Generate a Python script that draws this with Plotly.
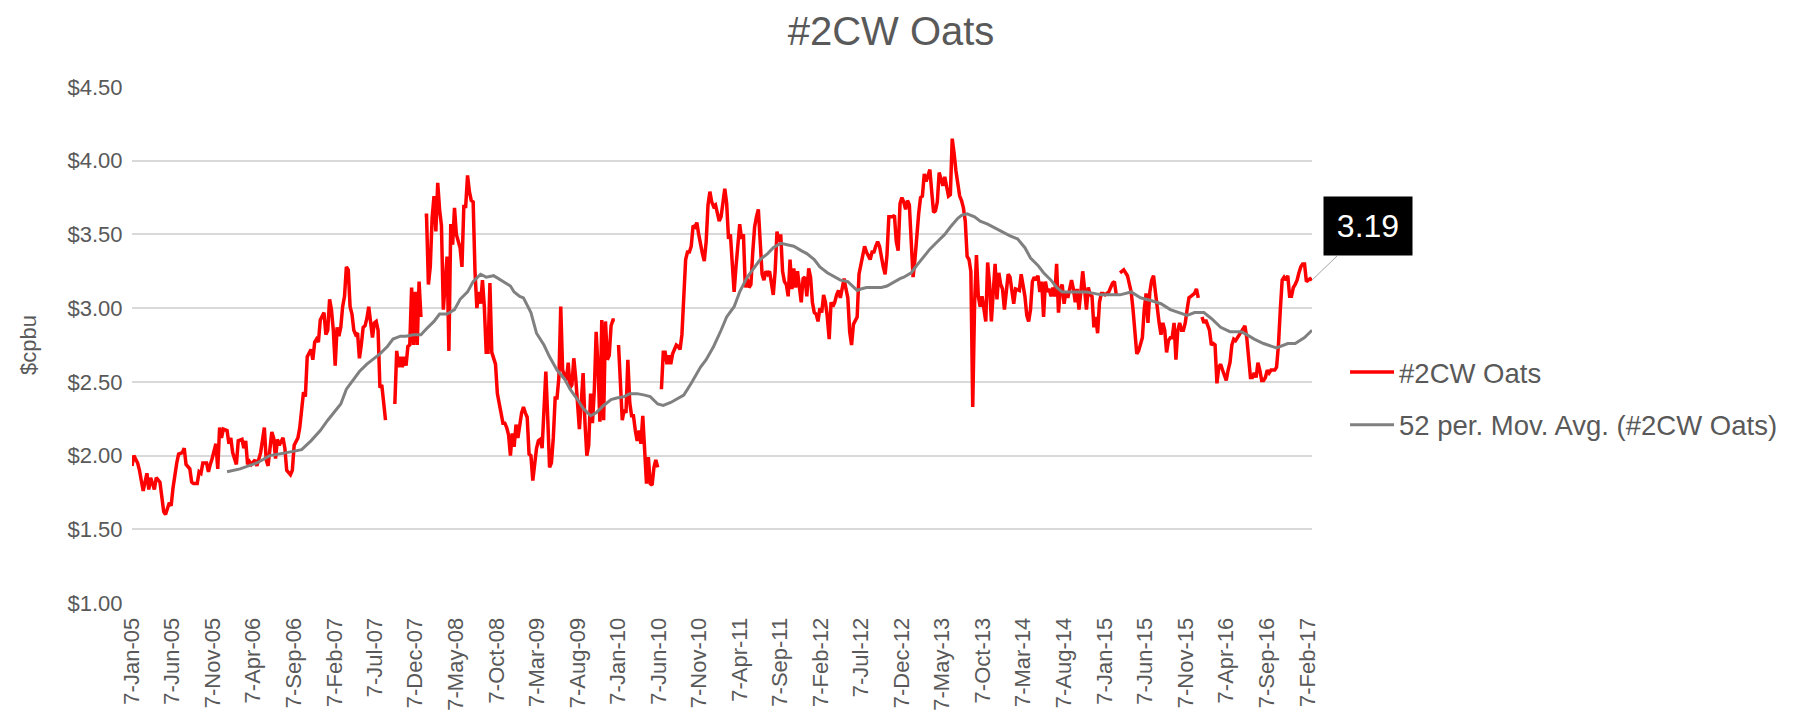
import plotly.graph_objects as go
import pandas as pd

# ---------------- data ----------------
START_DATE = "2005-01-07"   # week 0 (weekly Friday quotes)

# #2CW Oats weekly price ($/bu); week index from START_DATE, None = no quote
oats_week = [
    0, 1, 3, 4, 6, 8, 9, 10, 12, 13,
    15, 16, 17, 18, 20, 21, 22, 24, 25, 27,
    28, 29, 31, 32, 33, 35, 36, 37, 38, 40,
    41, 42, 43, 45, 46, 47, 48, 49, 51, 52,
    53, 54, 55, 56, 57, 59, 60, 61, 62, 63,
    64, 66, 67, 68, 69, 71, 72, 73, 74, 75,
    76, 77, 78, 79, 81, 82, 83, 85, 86, 87,
    89, 90, 91, 92, 93, 94, 96, 97, 98, 99,
    100, 101, 103, 104, 105, 106, 107, 108, 109, 110,
    111, 112, 113, 114, 115, 116, 117, 118, 119, 120,
    121, 122, 123, 124, 125, 126, 127, 128, 129, 130,
    131, 132, 133, 134, 135, 136, 138, 141, 142, 143,
    144, 145, 146, 147, 148, 149, 150, 151, 152, 153,
    154, 155, 156, 157, 158, 159, 160, 161, 162, 163,
    164, 165, 166, 167, 168, 169, 170, 171, 172, 173,
    174, 176, 177, 178, 179, 180, 181, 182, 183, 184,
    185, 186, 187, 188, 189, 190, 191, 192, 193, 194,
    195, 196, 197, 199, 200, 201, 202, 203, 204, 205,
    206, 207, 209, 210, 211, 212, 213, 214, 215, 216,
    217, 218, 219, 220, 221, 222, 223, 224, 225, 226,
    227, 228, 229, 230, 231, 232, 233, 234, 235, 236,
    237, 238, 239, 240, 241, 242, 243, 244, 245, 246,
    247, 248, 249, 250, 251, 252, 253, 254, 255, 256,
    257, 258, 259, 260, 261, 262, 263, 264, 265, 266,
    267, 268, 269, 270, 271, 272, 273, 274, 275, 276,
    277, 278, 279, 280, 281, 282, 283, 284, 285, 286,
    287, 288, 289, 290, 291, 292, 293, 294, 295, 296,
    297, 298, 299, 300, 301, 302, 303, 304, 305, 306,
    307, 308, 309, 310, 311, 312, 313, 314, 315, 316,
    317, 318, 319, 320, 321, 322, 323, 324, 325, 326,
    327, 328, 329, 330, 331, 332, 333, 334, 335, 336,
    337, 338, 339, 340, 341, 342, 343, 344, 345, 346,
    347, 348, 349, 350, 351, 352, 353, 354, 355, 356,
    357, 358, 359, 360, 361, 362, 363, 364, 365, 366,
    367, 368, 369, 370, 371, 372, 373, 374, 375, 376,
    377, 378, 379, 380, 381, 382, 383, 384, 385, 386,
    387, 388, 389, 390, 391, 392, 393, 394, 395, 396,
    397, 398, 399, 400, 401, 402, 403, 404, 405, 406,
    407, 408, 409, 410, 411, 412, 413, 414, 415, 416,
    417, 418, 419, 420, 421, 422, 423, 424, 425, 426,
    427, 428, 429, 430, 431, 432, 433, 434, 435, 436,
    437, 438, 439, 440, 441, 442, 444, 445, 446, 447,
    448, 449, 450, 451, 452, 453, 454, 455, 456, 457,
    458, 459, 460, 461, 462, 463, 464, 465, 466, 467,
    468, 470, 471, 472, 473, 474, 476, 477, 478, 479,
    480, 481, 482, 483, 484, 485, 486, 487, 488, 489,
    490, 491, 492, 493, 494, 495, 496, 497, 498, 499,
    500, 501, 502, 503, 504, 505, 506, 507, 508, 509,
    510, 511, 512, 513, 514, 515, 516, 517, 518, 519,
    520, 521, 522, 523, 524, 525, 526, 527, 528, 529,
    530, 532, 534, 536, 537, 538, 539, 540, 541, 542,
    543, 544, 545, 546, 547, 548, 549, 550, 551, 552,
    553, 554, 555, 556, 557, 558, 559, 560, 561, 562,
    563, 564, 565, 566, 567, 568, 569, 570, 571, 572,
    573, 574, 575, 576, 577, 578, 579, 580, 581, 582,
    583, 584, 585, 586, 587, 588, 589, 590, 591, 592,
    593, 594, 595, 596, 597, 598, 599, 600, 601, 602,
    603, 604, 605, 606, 607, 608, 609, 610, 611, 612,
    613, 614, 615, 616, 617, 618, 619, 620, 621, 622,
    623, 624, 625, 626, 627, 628, 629, 630, 631, 632,
    633,
]
oats_price = [
    1.93, 2.00, 1.95, 1.90, 1.76, 1.88, 1.77, 1.85, 1.77, 1.85,
    1.82, 1.71, 1.62, 1.60, 1.68, 1.66, 1.78, 1.95, 2.01, 2.02,
    2.05, 1.94, 1.91, 1.82, 1.81, 1.81, 1.89, 1.88, 1.95, 1.95,
    1.89, 1.94, 1.98, 2.08, 1.91, 2.19, 2.12, 2.18, 2.17, 2.08,
    2.12, 2.02, 1.98, 1.94, 2.10, 2.11, 2.05, 2.10, 1.94, 1.96,
    1.94, 1.97, 1.93, 1.98, 2.02, 2.19, 1.97, 1.93, 2.04, 2.16,
    2.12, 1.98, 2.11, 2.07, 2.12, 2.05, 1.90, 1.87, 1.90, 2.07,
    2.12, 2.19, 2.31, 2.43, 2.40, 2.67, 2.72, 2.65, 2.77, 2.79,
    2.77, 2.92, 2.97, 2.82, 2.85, 3.06, 2.99, 2.85, 2.61, 2.87,
    2.81, 2.87, 3.01, 3.08, 3.28, 3.26, 3.01, 2.96, 2.85, 2.82,
    2.83, 2.66, 2.75, 2.87, 2.88, 2.93, 3.01, 2.89, 2.80, 2.90,
    2.91, 2.85, 2.46, 2.48, 2.36, 2.24, None, 2.35, 2.71, 2.60,
    2.67, 2.60, 2.67, 2.61, 2.74, 2.75, 3.14, 2.75, 3.11, 2.75,
    3.18, 2.94, None, 3.63, 3.63, 3.16, 3.28, 3.61, 3.76, 3.52,
    3.85, 3.67, 3.56, 2.99, 3.16, 3.35, 2.71, 3.57, 3.43, 3.68,
    3.50, 3.41, 3.28, 3.69, 3.69, 3.90, 3.79, 3.73, 3.72, 3.25,
    3.00, 3.11, 3.03, 3.19, 3.01, 2.70, 2.70, 3.17, 2.70, 2.65,
    2.62, 2.42, 2.36, 2.22, 2.22, 2.19, 2.14, 2.00, 2.15, 2.06,
    2.21, 2.12, 2.29, 2.33, 2.29, 2.26, 2.01, 2.00, 1.83, 1.95,
    2.05, 2.10, 2.11, 2.05, 2.29, 2.57, 2.26, 1.92, 1.95, 2.12,
    2.39, 2.39, 2.53, 3.01, 2.58, 2.55, 2.51, 2.63, 2.46, 2.48,
    2.66, 2.53, 2.36, 2.18, 2.36, 2.56, 2.22, 2.00, 2.07, 2.42,
    2.22, 2.44, 2.84, 2.60, 2.23, 2.92, 2.24, 2.91, 2.65, 2.68,
    2.88, 2.92, 2.92, None, 2.75, 2.44, 2.24, 2.31, 2.29, 2.65,
    2.36, 2.27, 2.27, 2.17, 2.10, 2.17, 2.08, 2.27, 2.02, 1.81,
    1.99, 1.81, 1.80, 1.92, 1.97, 1.92, None, 2.45, 2.70, 2.70,
    2.62, 2.68, 2.62, 2.69, 2.72, 2.75, 2.74, 2.72, 2.82, 3.11,
    3.33, 3.38, 3.38, 3.42, 3.56, 3.55, 3.58, 3.50, 3.42, 3.37,
    3.32, 3.45, 3.70, 3.79, 3.72, 3.69, 3.70, 3.64, 3.59, 3.62,
    3.71, 3.81, 3.71, 3.47, 3.50, 3.33, 3.11, 3.28, 3.42, 3.57,
    3.47, 3.50, 3.14, 3.20, 3.14, 3.16, 3.38, 3.55, 3.62, 3.67,
    3.45, 3.23, 3.19, 3.25, 3.23, 3.25, 3.17, 3.09, 3.25, 3.52,
    3.45, 3.50, 3.25, 3.18, 3.16, 3.08, 3.33, 3.13, 3.27, 3.14,
    3.25, 3.14, 3.04, 3.20, 3.21, 3.08, 3.27, 3.21, 3.04, 2.97,
    2.96, 2.91, 3.00, 2.97, 3.09, 3.04, 2.94, 2.79, 3.04, 3.01,
    3.04, 3.09, 3.12, 3.07, 3.13, 3.20, 3.13, 3.07, 2.84, 2.75,
    2.89, 2.91, 2.94, 3.23, 3.30, 3.36, 3.42, 3.38, 3.35, 3.33,
    3.38, 3.38, 3.42, 3.45, 3.42, 3.33, 3.28, 3.23, 3.36, 3.62,
    3.62, 3.62, 3.63, 3.45, 3.39, 3.71, 3.75, 3.72, 3.67, 3.73,
    3.70, 3.47, 3.21, 3.33, 3.50, 3.64, 3.75, 3.76, 3.91, 3.86,
    3.90, 3.94, 3.79, 3.65, 3.66, 3.72, 3.92, 3.88, 3.83, 3.89,
    3.83, 3.76, 3.77, 4.15, 4.05, 3.93, 3.76, 3.73, 3.68, 3.59,
    3.35, 3.33, 3.25, 2.33, 3.03, 3.36, 3.08, 3.01, 3.08, 2.99,
    2.91, 3.31, 3.17, 2.91, 3.13, 3.30, 3.06, 3.24, 3.16, 3.13,
    2.99, 3.23, 3.21, 3.12, 3.03, 3.13, 3.12, 3.23, 3.16, 3.08,
    2.95, 2.91, 2.99, 3.18, 3.21, 3.19, 3.22, 3.11, 3.18, 2.94,
    3.18, 3.11, 3.13, 3.08, 3.14, 3.08, 3.30, 2.97, 3.13, 3.16,
    3.03, 3.11, 3.07, 3.14, 3.19, 3.13, 3.04, 3.13, 2.99, 3.11,
    3.25, 3.13, 2.99, 3.14, 3.09, 3.08, 2.87, 2.94, 2.83, 3.04,
    3.10, 3.10, 3.09, 3.10, 3.11, 3.14, 3.17, 3.18, 3.09, None,
    3.24, 3.26, 3.22, 3.11, 2.99, 2.80, 2.69, 2.71, 2.75, 2.80,
    2.99, 3.10, 2.90, 3.11, 3.19, 3.22, 3.11, 2.99, 2.90, 2.82,
    2.90, 2.85, 2.70, 2.78, 2.80, 2.80, 2.90, 2.65, 2.85, 2.90,
    2.85, 2.85, 2.90, 2.99, 3.07, 3.08, 3.09, 3.10, 3.13, 3.07,
    None, 2.94, 2.90, 2.92, 2.88, 2.85, 2.75, 2.76, 2.75, 2.49,
    2.60, 2.62, 2.58, 2.55, 2.51, 2.58, 2.63, 2.75, 2.79, 2.78,
    2.80, 2.82, 2.85, 2.87, 2.88, 2.80, 2.67, 2.53, 2.53, 2.56,
    2.53, 2.63, 2.58, 2.51, 2.51, 2.53, 2.58, 2.56, 2.58, 2.58,
    2.58, 2.60, 2.75, 2.99, 3.19, 3.21, 3.19, 3.22, 3.08, 3.08,
    3.14, 3.16, 3.19, 3.24, 3.28, 3.30, 3.30, 3.18, 3.19, 3.20,
    3.19,
]

# 52-period moving average (week index, $/bu)
ma_week = [
    51, 58, 67, 74, 83, 91, 96, 101, 105, 108,
    112, 115, 119, 122, 126, 130, 133, 137, 140, 144,
    147, 151, 155, 158, 162, 165, 169, 173, 176, 180,
    183, 187, 190, 194, 198, 201, 203, 205, 208, 210,
    214, 217, 221, 224, 228, 232, 235, 239, 242, 246,
    249, 253, 257, 260, 264, 267, 271, 275, 278, 282,
    285, 289, 292, 296, 300, 303, 305, 308, 312, 316,
    319, 323, 326, 330, 334, 337, 341, 344, 348, 351,
    355, 359, 362, 366, 369, 373, 377, 380, 384, 387,
    389, 391, 394, 398, 402, 405, 409, 412, 414, 418,
    421, 425, 428, 432, 436, 439, 443, 445, 448, 452,
    455, 459, 462, 466, 469, 471, 475, 479, 482, 486,
    489, 493, 496, 499, 502, 505, 509, 512, 516, 520,
    523, 527, 530, 536, 541, 547, 552, 557, 563, 566,
    570, 575, 579, 584, 589, 595, 598, 602, 607, 614,
    620, 624, 629, 633,
]
ma_price = [
    1.89, 1.91, 1.95, 2.00, 2.02, 2.04, 2.10, 2.17, 2.24, 2.29,
    2.35, 2.45, 2.52, 2.57, 2.62, 2.66, 2.69, 2.74, 2.79, 2.81,
    2.81, 2.82, 2.82, 2.86, 2.91, 2.96, 2.96, 2.99, 3.06, 3.11,
    3.18, 3.23, 3.21, 3.22, 3.19, 3.17, 3.15, 3.11, 3.08, 3.07,
    2.97, 2.83, 2.75, 2.67, 2.58, 2.52, 2.45, 2.38, 2.32, 2.27,
    2.29, 2.34, 2.38, 2.39, 2.40, 2.42, 2.42, 2.41, 2.40, 2.35,
    2.34, 2.36, 2.38, 2.41, 2.49, 2.56, 2.60, 2.65, 2.74, 2.85,
    2.94, 3.01, 3.11, 3.21, 3.28, 3.33, 3.37, 3.41, 3.44, 3.43,
    3.42, 3.39, 3.37, 3.33, 3.28, 3.24, 3.21, 3.19, 3.18, 3.14,
    3.12, 3.13, 3.14, 3.14, 3.14, 3.15, 3.18, 3.20, 3.21, 3.24,
    3.29, 3.35, 3.40, 3.45, 3.50, 3.55, 3.61, 3.63, 3.64, 3.62,
    3.59, 3.57, 3.55, 3.52, 3.50, 3.49, 3.47, 3.41, 3.34, 3.29,
    3.24, 3.19, 3.14, 3.11, 3.11, 3.11, 3.11, 3.11, 3.10, 3.09,
    3.09, 3.09, 3.09, 3.11, 3.07, 3.05, 3.03, 2.99, 2.96, 2.95,
    2.97, 2.97, 2.93, 2.87, 2.84, 2.84, 2.82, 2.79, 2.76, 2.73,
    2.76, 2.76, 2.80, 2.85,
]

tick_dates = [
    "2005-01-07", "2005-06-07", "2005-11-07", "2006-04-07", "2006-09-07",
    "2007-02-07", "2007-07-07", "2007-12-07", "2008-05-07", "2008-10-07",
    "2009-03-07", "2009-08-07", "2010-01-07", "2010-06-07", "2010-11-07",
    "2011-04-07", "2011-09-07", "2012-02-07", "2012-07-07", "2012-12-07",
    "2013-05-07", "2013-10-07", "2014-03-07", "2014-08-07", "2015-01-07",
    "2015-06-07", "2015-11-07", "2016-04-07", "2016-09-07", "2017-02-07",
]
tick_labels = [
    "7-Jan-05", "7-Jun-05", "7-Nov-05", "7-Apr-06", "7-Sep-06",
    "7-Feb-07", "7-Jul-07", "7-Dec-07", "7-May-08", "7-Oct-08",
    "7-Mar-09", "7-Aug-09", "7-Jan-10", "7-Jun-10", "7-Nov-10",
    "7-Apr-11", "7-Sep-11", "7-Feb-12", "7-Jul-12", "7-Dec-12",
    "7-May-13", "7-Oct-13", "7-Mar-14", "7-Aug-14", "7-Jan-15",
    "7-Jun-15", "7-Nov-15", "7-Apr-16", "7-Sep-16", "7-Feb-17",
]
y_ticks = [1.0, 1.5, 2.0, 2.5, 3.0, 3.5, 4.0, 4.5]
y_tick_labels = ["$1.00", "$1.50", "$2.00", "$2.50", "$3.00", "$3.50", "$4.00", "$4.50"]

# ---------------- figure ----------------
start = pd.Timestamp(START_DATE)
oats_dates = [start + pd.Timedelta(weeks=w) for w in oats_week]
ma_dates = [start + pd.Timedelta(weeks=w) for w in ma_week]

FONT = "Liberation Sans, Arial, sans-serif"
GREY_TXT = "#595959"

fig = go.Figure()
fig.add_trace(go.Scatter(
    x=oats_dates, y=oats_price, mode="lines", name="#2CW Oats",
    line=dict(color="#ff0000", width=3.5), connectgaps=False,
    legendgroup="a",
))
fig.add_trace(go.Scatter(
    x=ma_dates, y=ma_price, mode="lines",
    name="52 per. Mov. Avg. (#2CW Oats)",
    line=dict(color="#808080", width=3), legendgroup="b",
))

fig.add_annotation(
    x=oats_dates[-1], y=oats_price[-1], xref="x", yref="y",
    text=f"{oats_price[-1]:.2f}", showarrow=True, arrowhead=0,
    arrowwidth=1, arrowcolor="#a6a6a6", ax=56, ay=-54,
    font=dict(family=FONT, size=32, color="white"),
    bgcolor="black", width=88, height=58, align="center", valign="middle",
    borderpad=0, standoff=0,
)

fig.update_layout(
    width=1800, height=720,
    margin=dict(l=132, r=488, t=87, b=117, autoexpand=False),
    paper_bgcolor="white", plot_bgcolor="white",
    font=dict(family=FONT, color=GREY_TXT),
    title=dict(text="#2CW Oats", x=0.495, xref="container", xanchor="center",
               y=0.977, yref="container", yanchor="top",
               font=dict(family=FONT, size=40, color=GREY_TXT)),
    showlegend=True,
    legend=dict(x=1.028, xanchor="left", y=0.495, yanchor="top",
                font=dict(family=FONT, size=27.5, color=GREY_TXT),
                tracegroupgap=14, bgcolor="rgba(0,0,0,0)", itemwidth=44),
    xaxis=dict(
        type="date", range=[oats_dates[0], oats_dates[-1]],
        tickmode="array", tickvals=tick_dates, ticktext=tick_labels,
        tickangle=-90, tickfont=dict(family=FONT, size=22, color=GREY_TXT),
        showgrid=False, zeroline=False, showline=False, automargin=False,
        ticks="outside", ticklen=5, tickcolor="rgba(0,0,0,0)",
    ),
    yaxis=dict(
        range=[1.0, 4.5], tickmode="array", tickvals=y_ticks,
        ticktext=y_tick_labels,
        tickfont=dict(family=FONT, size=22, color=GREY_TXT),
        showgrid=True, gridcolor="#d9d9d9", gridwidth=1.5,
        zeroline=False, showline=False, automargin=False,
        ticks="outside", ticklen=4, tickcolor="rgba(0,0,0,0)",
        title=dict(text="$cpbu", standoff=24,
                   font=dict(family=FONT, size=22, color=GREY_TXT)),
    ),
)

fig.write_html(
    "out.html",
    config={"displayModeBar": False},
    post_script="document.body.style.margin='0';document.body.style.overflow='hidden';",
)
